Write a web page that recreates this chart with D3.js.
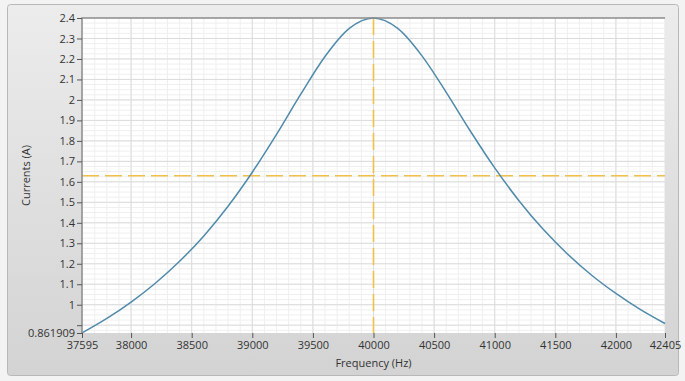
<!DOCTYPE html>
<html lang="en">
  <head>
    <meta charset="UTF-8" />
    <title>Resonance curve</title>
    <style>
      body { margin: 0; background: #f3f3f3; }
      text { font-family: "Open Sans", "Noto Sans", sans-serif; fill: #333; }
    </style>
  </head>
  <body>
    <svg id="container" width="685" height="381">
      <defs>
        <linearGradient id="frame" x1="0" y1="0" x2="0" y2="1">
          <stop offset="0" stop-color="#ececec" />
          <stop offset="1" stop-color="#d3d3d3" />
        </linearGradient>
      </defs>
      <rect x="7.5" y="4.5" width="671" height="371" rx="3" fill="url(#frame)" stroke="#b8b8b8"></rect>
      <g id="grid"></g>
      <g id="body"></g>
      <g id="yAxis"></g>
      <g id="xAxis"></g>
    </svg>
    <script src="https://cdn.jsdelivr.net/npm/d3@7"></script>
    <script>
      // frequency (Hz) and current (A)
      const freq = [37595, 37800, 38000, 38200, 38400, 38600, 38800, 39000, 39200, 39400, 39600, 39800, 40000,
        40200, 40400, 40600, 40800, 41000, 41200, 41400, 41600, 41800, 42000, 42200, 42405];
      const current = [0.862, 0.933, 1.013, 1.105, 1.212, 1.336, 1.481, 1.647, 1.832, 2.028, 2.212, 2.349, 2.4,
        2.349, 2.215, 2.037, 1.847, 1.668, 1.508, 1.368, 1.248, 1.144, 1.055, 0.977, 0.908];
      const xTicks = [37595, 38000, 38500, 39000, 39500, 40000, 40500, 41000, 41500, 42000, 42405];
      const yTicks = [0.861909, 0.9, 1, 1.1, 1.2, 1.3, 1.4, 1.5, 1.6, 1.7, 1.8, 1.9, 2, 2.1, 2.2, 2.3, 2.4];
      const cursorX = 40000;
      const cursorY = 1.63;

      const pLeft = 82, pRight = 665, pTop = 18, pBottom = 333;
      let x = d3.scaleLinear().domain([37595, 42405]).range([pLeft, pRight]);
      let y = d3.scaleLinear().domain([0.861909, 2.4]).range([pBottom, pTop]);

      // plot area
      let grid = d3.select("#grid");
      grid.append("rect").attr("x", pLeft).attr("y", pTop)
        .attr("width", pRight - pLeft).attr("height", pBottom - pTop).attr("fill", "#fff");

      // minor grid
      let xMinor = d3.range(37600, 42405, 100);
      let yMinor = d3.range(0.875, 2.4, 0.025);
      grid.selectAll(".xm").data(xMinor).enter().append("line")
        .attr("x1", d => x(d)).attr("x2", d => x(d)).attr("y1", pTop).attr("y2", pBottom)
        .attr("stroke", "#efefef");
      grid.selectAll(".ym").data(yMinor).enter().append("line")
        .attr("y1", d => y(d)).attr("y2", d => y(d)).attr("x1", pLeft).attr("x2", pRight)
        .attr("stroke", "#efefef");
      // major grid
      grid.selectAll(".xM").data(xTicks.slice(1, -1)).enter().append("line")
        .attr("x1", d => x(d)).attr("x2", d => x(d)).attr("y1", pTop).attr("y2", pBottom)
        .attr("stroke", "#dcdcdc");
      grid.selectAll(".yM").data(yTicks.slice(1, -1)).enter().append("line")
        .attr("y1", d => y(d)).attr("y2", d => y(d)).attr("x1", pLeft).attr("x2", pRight)
        .attr("stroke", "#dcdcdc");

      let body = d3.select("#body");
      // cursors
      body.append("line").attr("x1", pLeft).attr("x2", pRight)
        .attr("y1", y(cursorY)).attr("y2", y(cursorY))
        .attr("stroke", "#f0c04a").attr("stroke-width", 1.6).attr("stroke-dasharray", "17,6");
      body.append("line").attr("x1", x(cursorX)).attr("x2", x(cursorX))
        .attr("y1", pTop).attr("y2", pBottom)
        .attr("stroke", "#f0c04a").attr("stroke-width", 1.6).attr("stroke-dasharray", "17,6");

      // curve
      let line = d3.line().x((d, i) => x(freq[i])).y(d => y(d)).curve(d3.curveMonotoneX);
      body.append("path").datum(current).attr("d", line)
        .attr("fill", "none").attr("stroke", "#4f8aab").attr("stroke-width", 1.5);

      // frame of plot
      body.append("path")
        .attr("d", `M${pLeft},${pBottom}V${pTop}H${pRight}`)
        .attr("fill", "none").attr("stroke", "#8c8c8c").attr("stroke-width", 1.5);

      // axes
      let xAxis = d3.axisBottom(x).tickValues(xTicks).tickSize(5).tickPadding(3).tickFormat(d => d);
      let gx = d3.select("#xAxis").attr("transform", `translate(0,${pBottom})`).call(xAxis);
      gx.select(".domain").remove();
      gx.selectAll(".tick line").attr("stroke", "#555");
      gx.selectAll("text").attr("font-size", 11).style("font-family", "'Open Sans', sans-serif").attr("fill", "#333");

      let yAxis = d3.axisLeft(y).tickValues(yTicks).tickSize(5).tickPadding(2)
        .tickFormat(d => d === 0.9 ? "" : d);
      let gy = d3.select("#yAxis").attr("transform", `translate(${pLeft},0)`).call(yAxis);
      gy.select(".domain").remove();
      gy.selectAll(".tick line").attr("stroke", "#555");
      gy.selectAll("text").attr("font-size", 11).style("font-family", "'Open Sans', sans-serif").attr("fill", "#333");

      // axis titles
      d3.select("#container").append("text").attr("x", (pLeft + pRight) / 2).attr("y", 367)
        .attr("text-anchor", "middle").attr("font-size", 11).text("Frequency (Hz)");
      d3.select("#container").append("text")
        .attr("transform", `translate(30,${(pTop + pBottom) / 2}) rotate(-90)`)
        .attr("text-anchor", "middle").attr("font-size", 11).text("Currents (A)");
    </script>
  </body>
</html>
